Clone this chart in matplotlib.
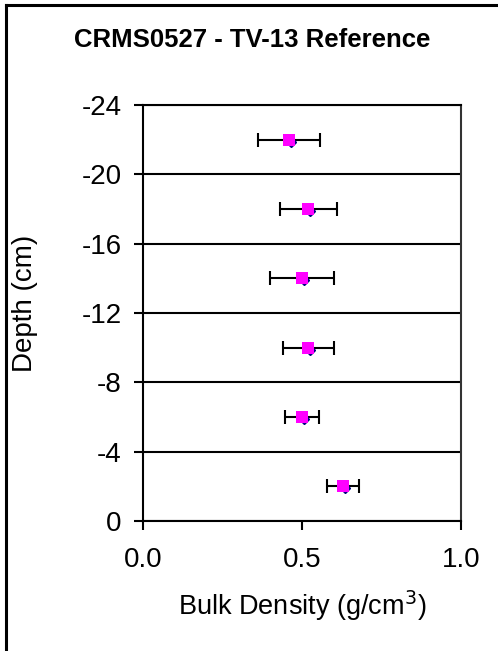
import matplotlib
matplotlib.use("Agg")
import matplotlib.pyplot as plt
from matplotlib.lines import Line2D
from matplotlib.transforms import offset_copy

plt.rcParams['font.family'] = ['Liberation Sans', 'DejaVu Sans']
plt.rcParams['axes.unicode_minus'] = False

# values
depth = [-2, -6, -10, -14, -18, -22]
bulk_density = [0.63, 0.50, 0.52, 0.50, 0.52, 0.46]
bd_err = [0.05, 0.055, 0.08, 0.10, 0.09, 0.097]
y_ticks = [0, -4, -8, -12, -16, -20, -24]
x_ticks = [0.0, 0.5, 1.0]

W, H = 498, 651
fig = plt.figure(figsize=(W / 100, H / 100), dpi=100)
ax = fig.add_axes([143 / W, 1 - 521 / H, (461 - 143) / W, (521 - 105) / H])

# outer chart frame (only left and top edges are inside the picture)
fig.add_artist(Line2D([6 / W, 6 / W], [0, 1 - 5 / H], transform=fig.transFigure,
                      color='black', lw=2.2))
fig.add_artist(Line2D([6 / W, 1], [1 - 5 / H, 1 - 5 / H], transform=fig.transFigure,
                      color='black', lw=2.2))

ax.errorbar(bulk_density, depth, xerr=bd_err, fmt='none', ecolor='black',
            elinewidth=1.5, capsize=5, capthick=1.5, zorder=3)
shifted = offset_copy(ax.transData, fig=fig, x=2, y=-2, units='dots')
ax.plot(bulk_density, depth, 'D', color='#000080', markersize=5.5, transform=shifted,
        zorder=4, clip_on=False)
ax.plot(bulk_density, depth, 's', color='#FF00FF', markersize=8.5, markeredgewidth=0,
        zorder=5)

ax.set_xlim(0, 1)
ax.set_ylim(0, -24)
ax.set_xticks(x_ticks)
ax.set_xticklabels([f"{v:.1f}" for v in x_ticks])
ax.set_yticks(y_ticks)
ax.set_yticklabels([str(v) for v in y_ticks])

ax.yaxis.grid(True, color='black', lw=1.5)
ax.set_axisbelow(True)
for s in ['left', 'bottom', 'top']:
    ax.spines[s].set_linewidth(1.5)
    ax.spines[s].set_color('black')
ax.spines['right'].set_linewidth(1.5)
ax.spines['right'].set_color('#333333')

ax.tick_params(axis='both', direction='out', length=6.5, width=1.5, labelsize=20, pad=9)
ax.tick_params(axis='x', pad=12)

ax.set_xlabel('Bulk Density (g/cm$^3$)', fontsize=19.5, va='baseline')
ax.xaxis.set_label_coords(0.5, -0.226)
ax.set_ylabel('Depth (cm)', fontsize=20, va='center')
ax.yaxis.set_label_coords(-0.371, 0.524)
fig.text(252 / W, 1 - 40 / H, 'CRMS0527 - TV-13 Reference', ha='center', va='center',
         fontsize=18.5, fontweight='bold')

fig.savefig('out.png', dpi=100)
